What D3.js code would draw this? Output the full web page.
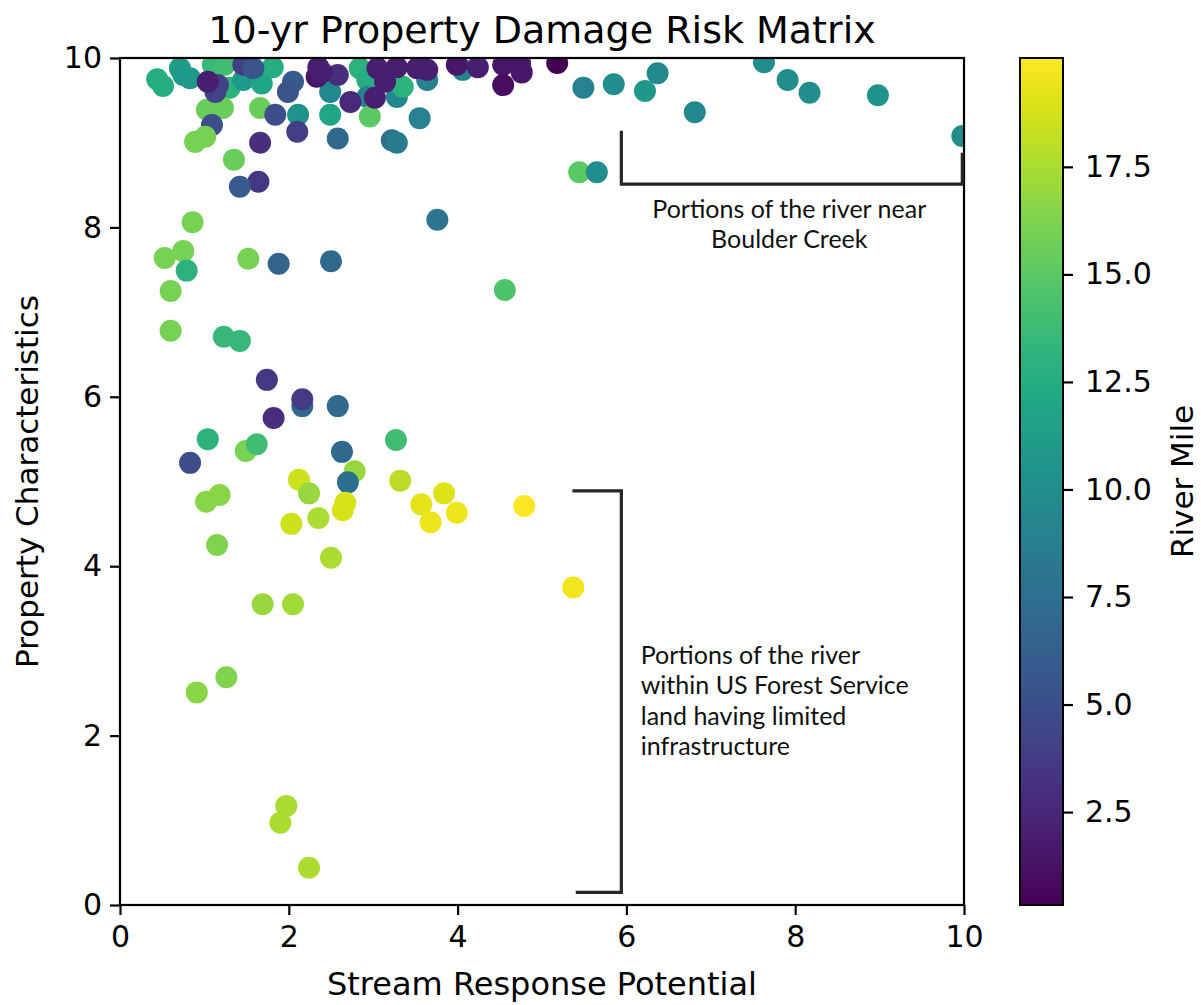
<!DOCTYPE html>
<html>
<head>
<meta charset="utf-8">
<script src="https://cdn.jsdelivr.net/npm/d3@7"></script>
<style>
  body { margin: 0; background: #fff; }
  svg { font-family: "DejaVu Sans", sans-serif; }
</style>
</head>
<body>
<svg id="chart" width="1201" height="1005"></svg>
<script>
// Stream response potential (x), property characteristics (y) and river mile (colour)
const streamResponse = [
  0.44, 0.51, 0.71, 0.75, 0.83, 1.30, 1.10, 1.24, 1.03, 1.22,
  1.09, 0.89, 1.01, 1.35, 1.46, 1.68, 1.81, 1.16, 1.13, 1.04,
  1.46, 1.58, 2.05, 1.99, 2.49, 1.66, 1.84, 2.11, 2.10, 1.66,
  1.64, 1.42, 2.84, 2.93, 2.93, 3.28, 3.35, 2.49, 2.96, 3.55,
  2.58, 3.22, 3.28, 3.64, 4.06, 2.33, 2.35, 2.58, 2.39, 3.05,
  3.14, 3.28, 3.52, 2.73, 3.02, 3.64, 3.99, 4.24, 4.54, 4.54,
  4.76, 4.74, 5.18,
  5.49, 5.85, 6.22, 6.37, 6.81, 7.63, 7.91, 8.17, 8.98, 9.98,
  5.44, 5.65,
  3.76, 4.56, 2.50, 1.88, 1.52, 0.53, 0.75, 0.79, 0.60, 0.86,
  0.60, 1.23, 1.42,
  1.74, 2.16, 2.16, 1.82, 2.58, 1.04, 1.49, 1.62, 0.83, 3.27,
  2.78, 2.63, 2.70, 2.12, 2.24, 3.32, 2.64, 2.67, 3.84, 3.57,
  3.68, 3.99, 4.79, 1.18, 1.02, 2.03, 2.35, 1.15, 2.50, 5.37,
  1.69, 2.05, 0.91, 1.26, 1.97, 1.90, 2.24
];
const propertyChar = [
  9.75, 9.67, 9.88, 9.80, 9.76, 9.65, 9.92, 9.92, 9.39, 9.41,
  9.21, 9.01, 9.07, 8.80, 9.74, 9.70, 9.89, 9.68, 9.60, 9.72,
  9.92, 9.88, 9.72, 9.60, 9.60, 9.41, 9.33, 9.33, 9.13, 9.00,
  8.54, 8.48, 9.88, 9.74, 9.54, 9.54, 9.66, 9.33, 9.31, 9.29,
  9.05, 9.03, 9.00, 9.74, 9.86, 9.78, 9.89, 9.80, 9.83, 9.88,
  9.72, 9.89, 9.88, 9.48, 9.53, 9.86, 9.92, 9.89, 9.92, 9.68,
  9.83, 9.94, 9.94,
  9.65, 9.69, 9.61, 9.82, 9.36, 9.95, 9.74, 9.59, 9.56, 9.08,
  8.65, 8.65,
  8.09, 7.26, 7.60, 7.57, 7.63, 7.64, 7.72, 7.49, 7.25, 8.06,
  6.78, 6.71, 6.66,
  6.20, 5.89, 5.97, 5.75, 5.89, 5.50, 5.36, 5.44, 5.22, 5.49,
  5.12, 5.35, 4.99, 5.02, 4.86, 5.01, 4.66, 4.75, 4.86, 4.73,
  4.52, 4.63, 4.71, 4.84, 4.76, 4.50, 4.57, 4.25, 4.10, 3.75,
  3.55, 3.55, 2.51, 2.69, 1.17, 0.97, 0.44
];
const riverMile = [
  12.5, 12.5, 11.2, 11.0, 11.0, 13.0, 13.5, 14.0, 15.5, 15.5,
  5.0, 16.0, 16.0, 15.5, 11.0, 12.0, 12.5, 4.0, 4.2, 2.0,
  4.0, 5.5, 6.0, 5.5, 9.5, 15.5, 5.0, 10.5, 4.0, 3.0,
  3.5, 6.0, 13.0, 12.5, 9.0, 9.5, 13.0, 12.0, 15.0, 9.0,
  7.0, 7.5, 8.5, 9.0, 9.0, 1.5, 2.0, 3.0, 2.0, 2.0,
  2.0, 2.0, 2.0, 2.5, 2.0, 2.0, 1.5, 2.0, 1.5, 1.0,
  1.5, 1.5, 0.34,
  9.0, 10.0, 10.8, 9.5, 9.5, 10.0, 10.0, 10.0, 10.5, 10.0,
  15.0, 10.0,
  8.0, 14.5, 7.0, 6.5, 16.0, 16.0, 16.0, 13.0, 16.0, 16.0,
  16.0, 13.5, 13.5,
  3.5, 7.0, 3.8, 3.0, 7.0, 13.0, 16.0, 14.0, 5.0, 14.0,
  17.0, 7.0, 7.5, 18.5, 17.0, 18.0, 18.8, 18.8, 19.0, 19.2,
  19.5, 19.5, 20.03, 16.5, 16.5, 18.5, 17.5, 16.2, 17.5, 19.7,
  17.0, 17.3, 16.5, 16.2, 17.5, 17.5, 17.6
];

const axisTicks = [0, 2, 4, 6, 8, 10];
const colorbarTicks = [2.5, 5.0, 7.5, 10.0, 12.5, 15.0, 17.5];

// Bracket annotations, in data units
const creekBracket = [[5.94, 9.14], [5.94, 8.51], [9.98, 8.51], [9.98, 8.88]];
const forestBracket = [[5.36, 4.89], [5.94, 4.89], [5.94, 0.15], [5.40, 0.15]];
const creekText = ["Portions of the river near", "Boulder Creek"];
const forestText = ["Portions of the river", "within US Forest Service", "land having limited", "infrastructure"];

const svg = d3.select("#chart");
const plot = { left: 120, right: 964, top: 58, bottom: 905 };
const cbar = { left: 1020, right: 1063 };

const x = d3.scaleLinear().domain([0, 10]).range([plot.left, plot.right]);
const y = d3.scaleLinear().domain([0, 10]).range([plot.bottom, plot.top]);
const cExtent = d3.extent(riverMile);
const color = d3.scaleSequential(d3.interpolateViridis).domain(cExtent);

const points = streamResponse.map((v, i) => ({ x: v, y: propertyChar[i], c: riverMile[i] }));

// Clip the markers to the axes area
svg.append("defs").append("clipPath").attr("id", "plot-clip")
  .append("rect")
  .attr("x", plot.left).attr("y", plot.top)
  .attr("width", plot.right - plot.left).attr("height", plot.bottom - plot.top);

svg.append("g").attr("clip-path", "url(#plot-clip)")
  .selectAll("circle").data(points).join("circle")
  .attr("cx", d => x(d.x))
  .attr("cy", d => y(d.y))
  .attr("r", 11)
  .attr("fill", d => color(d.c));

// Axes frame
svg.append("rect")
  .attr("x", plot.left).attr("y", plot.top)
  .attr("width", plot.right - plot.left).attr("height", plot.bottom - plot.top)
  .attr("fill", "none").attr("stroke", "#000").attr("stroke-width", 2.2);

function styleAxis(g) {
  g.select(".domain").remove();
  g.selectAll(".tick line").attr("stroke", "#000").attr("stroke-width", 2.2);
  g.selectAll(".tick text").attr("font-size", 30).attr("font-family", "DejaVu Sans").attr("fill", "#000");
}

svg.append("g").attr("transform", `translate(0,${plot.bottom})`)
  .call(d3.axisBottom(x).tickValues(axisTicks).tickFormat(d3.format("d")).tickSize(10).tickPadding(11))
  .call(styleAxis);

svg.append("g").attr("transform", `translate(${plot.left},0)`)
  .call(d3.axisLeft(y).tickValues(axisTicks).tickFormat(d3.format("d")).tickSize(10).tickPadding(8))
  .call(styleAxis);

// Titles
svg.append("text").attr("x", (plot.left + plot.right) / 2).attr("y", 43)
  .attr("text-anchor", "middle").attr("font-size", 38)
  .text("10-yr Property Damage Risk Matrix");

svg.append("text").attr("x", (plot.left + plot.right) / 2).attr("y", 995)
  .attr("text-anchor", "middle").attr("font-size", 32)
  .text("Stream Response Potential");

svg.append("text")
  .attr("transform", `translate(38,${(plot.top + plot.bottom) / 2}) rotate(-90)`)
  .attr("text-anchor", "middle").attr("font-size", 31)
  .text("Property Characteristics");

// Brackets and notes
const line = d3.line().x(d => x(d[0])).y(d => y(d[1]));
[creekBracket, forestBracket].forEach(b => {
  svg.append("path").attr("d", line(b))
    .attr("fill", "none").attr("stroke", "#262626").attr("stroke-width", 3.2);
});

const noteFont = "Lato, 'Open Sans', sans-serif";
svg.append("g").selectAll("text").data(creekText).join("text")
  .attr("x", x(7.93))
  .attr("y", (d, i) => y(8.21) + i * 30)
  .attr("dy", "0.35em")
  .attr("text-anchor", "middle")
  .attr("font-family", noteFont).attr("font-size", 25).attr("fill", "#111")
  .text(d => d);

svg.append("g").selectAll("text").data(forestText).join("text")
  .attr("x", x(6.17))
  .attr("y", (d, i) => y(2.95) + i * 30.5)
  .attr("dy", "0.35em")
  .attr("font-family", noteFont).attr("font-size", 25).attr("fill", "#111")
  .text(d => d);

// Colour bar
const cy = d3.scaleLinear().domain(cExtent).range([plot.bottom, plot.top]);
const grad = svg.select("defs").append("linearGradient")
  .attr("id", "viridis-grad").attr("x1", 0).attr("y1", 1).attr("x2", 0).attr("y2", 0);
d3.range(0, 1.0001, 0.02).forEach(t => {
  grad.append("stop").attr("offset", t).attr("stop-color", d3.interpolateViridis(t));
});
svg.append("rect")
  .attr("x", cbar.left).attr("y", plot.top)
  .attr("width", cbar.right - cbar.left).attr("height", plot.bottom - plot.top)
  .attr("fill", "url(#viridis-grad)")
  .attr("stroke", "#000").attr("stroke-width", 2);

svg.append("g").attr("transform", `translate(${cbar.right},0)`)
  .call(d3.axisRight(cy).tickValues(colorbarTicks).tickFormat(d3.format(".1f")).tickSize(10).tickPadding(12))
  .call(styleAxis);

svg.append("text")
  .attr("transform", `translate(1193,${(plot.top + plot.bottom) / 2}) rotate(-90)`)
  .attr("text-anchor", "middle").attr("font-size", 31)
  .text("River Mile");
</script>
</body>
</html>
